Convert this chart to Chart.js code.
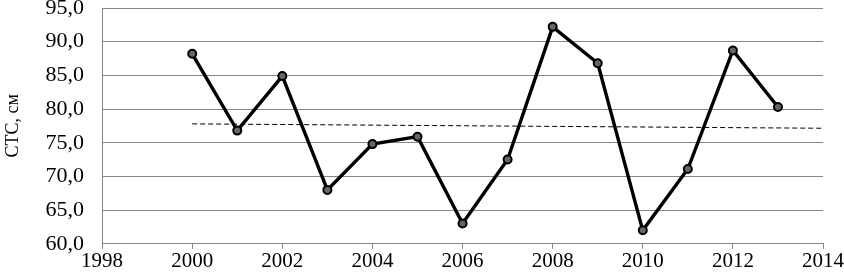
<!DOCTYPE html>
<html>
<head>
<meta charset="utf-8">
<script src="https://cdn.jsdelivr.net/npm/chart.js@4"></script>
<style>
    html, body { margin: 0; padding: 0; background: #fff; }
    #wrap { width: 844px; height: 275px; }
</style>
</head>
<body>
<div id="wrap"><canvas id="ctsChart" width="844" height="275"></canvas></div>
<script>
const years = [2000, 2001, 2002, 2003, 2004, 2005, 2006, 2007, 2008, 2009, 2010, 2011, 2012, 2013];
const ctsValues = [88.2, 76.8, 84.9, 68.0, 74.8, 75.9, 63.0, 72.5, 92.2, 86.8, 62.0, 71.1, 88.7, 80.3];
const trendYears = [2000, 2014];
const trendValues = [77.8, 77.15];
const yTitle = "СТС, см";

const serif = "'Liberation Serif', 'Times New Roman', serif";

function toPoints(xs, ys) {
    return xs.map((x, i) => ({ x: x, y: ys[i] }));
}

const ctx = document.getElementById("ctsChart").getContext("2d");
new Chart(ctx, {
    type: "line",
    data: {
        datasets: [
            {
                data: toPoints(years, ctsValues),
                borderColor: "#000",
                borderWidth: 3.4,
                pointRadius: 4,
                pointBorderWidth: 2,
                pointBorderColor: "#000",
                pointBackgroundColor: "#666",
                tension: 0,
            },
            {
                data: toPoints(trendYears, trendValues),
                borderColor: "#000",
                borderWidth: 1,
                borderDash: [5, 3],
                pointRadius: 0,
                tension: 0,
            },
        ],
    },
    options: {
        responsive: false,
        animation: false,
        layout: { padding: { top: 0, left: 2, right: 0, bottom: 0 } },
        plugins: { legend: { display: false }, tooltip: { enabled: false } },
        scales: {
            x: {
                type: "linear",
                min: 1998,
                max: 2014,
                ticks: {
                    stepSize: 2,
                    color: "#000",
                    font: { family: serif, size: 21 },
                    padding: 0,
                    maxRotation: 0,
                    callback: (v) => String(v),
                },
                grid: { drawOnChartArea: false, drawTicks: true, tickLength: 5, color: "#868686" },
                border: { color: "#868686", width: 1 },
            },
            y: {
                min: 60,
                max: 95,
                afterFit: (scale) => { scale.paddingTop = 8; },
                ticks: {
                    stepSize: 5,
                    color: "#000",
                    font: { family: serif, size: 22 },
                    padding: 18,
                    callback: (v) => v.toFixed(1).replace(".", ","),
                },
                grid: { color: "#868686", drawTicks: false },
                border: { color: "#868686", width: 1 },
                title: {
                    display: true,
                    text: yTitle,
                    color: "#000",
                    font: { family: serif, size: 18 },
                    padding: { top: 0, bottom: 4 },
                },
            },
        },
    },
});
</script>
</body>
</html>
